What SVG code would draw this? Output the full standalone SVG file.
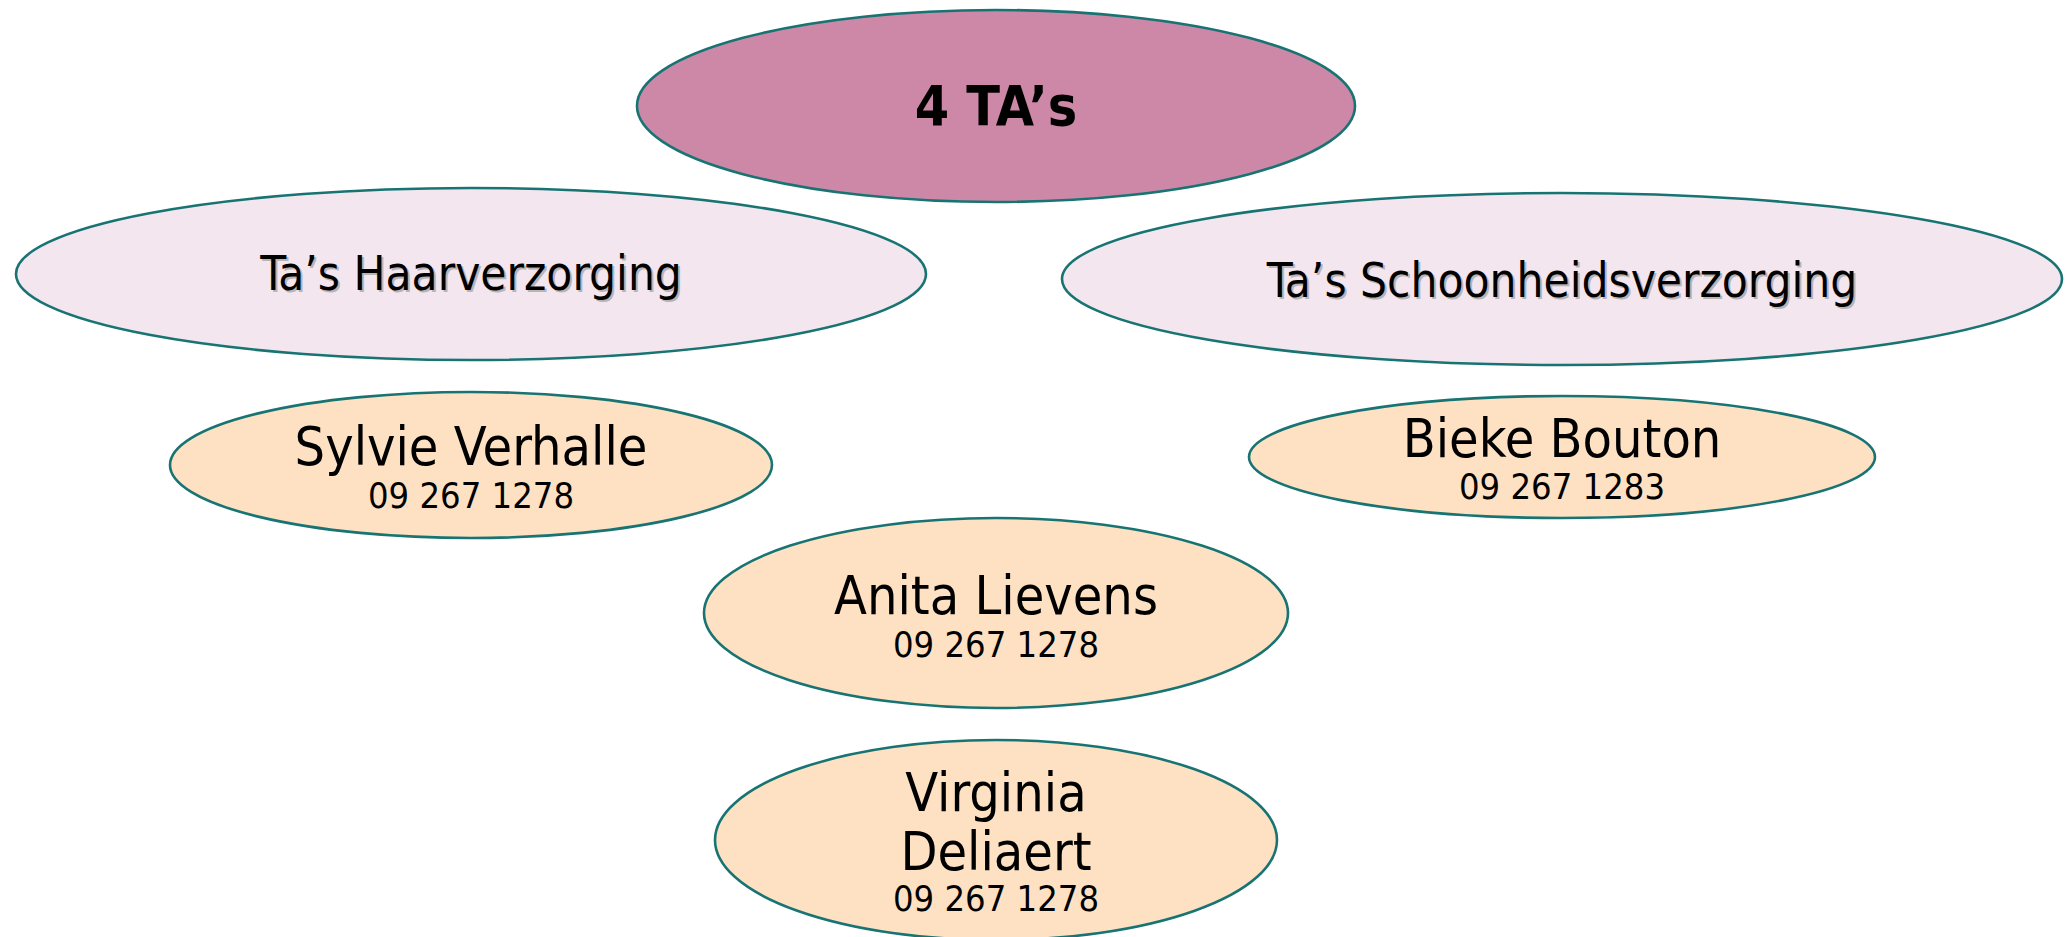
<svg xmlns="http://www.w3.org/2000/svg" width="2068" height="937" viewBox="0 0 2068 937">
<style>
  ellipse { stroke: #177473; stroke-width: 2.6; }
  .top { fill: #CE88A7; }
  .cat { fill: #F3E6EE; }
  .person { fill: #FDE1C2; }
  text { font-family: "DejaVu Sans Condensed", "DejaVu Sans", sans-serif; fill: #000; text-anchor: middle; }
  .title { font-size: 55px; font-weight: bold; }
  .head { font-size: 47.3px; }
  .shadow { fill: #8a8a8a; opacity: 0.55; }
  .name { font-size: 53.5px; }
  .phone { font-size: 36px; }
</style>
<rect width="2068" height="937" fill="#ffffff"/>
<g id="connectors"></g>
<g id="node-4tas">
  <ellipse class="top" cx="996" cy="106" rx="359" ry="96"/>
  <text class="title" x="996" y="125">4 TA’s</text>
</g>
<g id="node-haarverzorging">
  <ellipse class="cat" cx="471" cy="274" rx="455" ry="86"/>
  <text class="head shadow" x="473" y="292">Ta’s Haarverzorging</text>
  <text class="head" x="471" y="290">Ta’s Haarverzorging</text>
</g>
<g id="node-schoonheidsverzorging">
  <ellipse class="cat" cx="1562" cy="279" rx="500" ry="86"/>
  <text class="head shadow" x="1564" y="299">Ta’s Schoonheidsverzorging</text>
  <text class="head" x="1562" y="297">Ta’s Schoonheidsverzorging</text>
</g>
<g id="node-sylvie">
  <ellipse class="person" cx="471" cy="465" rx="301" ry="73"/>
  <text class="name" x="471" y="465">Sylvie Verhalle</text>
  <text class="phone" x="471" y="508">09 267 1278</text>
</g>
<g id="node-bieke">
  <ellipse class="person" cx="1562" cy="457" rx="313" ry="61"/>
  <text class="name" x="1562" y="457">Bieke Bouton</text>
  <text class="phone" x="1562" y="499">09 267 1283</text>
</g>
<g id="node-anita">
  <ellipse class="person" cx="996" cy="613" rx="292" ry="95"/>
  <text class="name" x="996" y="614">Anita Lievens</text>
  <text class="phone" x="996" y="657">09 267 1278</text>
</g>
<g id="node-virginia">
  <ellipse class="person" cx="996" cy="840" rx="281" ry="100"/>
  <text class="name" x="996" y="811">Virginia</text>
  <text class="name" x="996" y="870">Deliaert</text>
  <text class="phone" x="996" y="911">09 267 1278</text>
</g>
</svg>
